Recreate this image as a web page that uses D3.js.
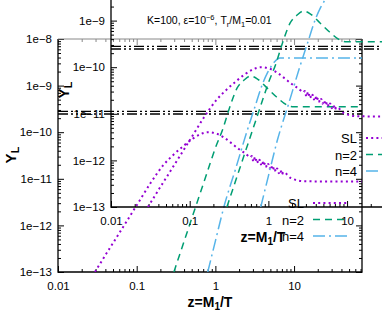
<!DOCTYPE html>
<html>
<head>
<meta charset="utf-8">
<script src="https://cdn.jsdelivr.net/npm/d3@7"></script>
<style>
  body { margin: 0; background: #fff; }
  svg { display: block; }
  text { font-family: "Liberation Sans", Arial, sans-serif; fill: #000; }
</style>
</head>
<body>
<svg></svg>
<script>
// values (z = M1/T, Y_L)
var zSL = [0.0295, 0.04, 0.06, 0.1, 0.15, 0.22, 0.3, 0.4, 0.5, 0.64, 0.8, 1.0, 1.3, 1.6, 2.0, 2.4, 2.8,
           2.9, 3.0, 3.1, 3.2, 3.35, 3.5, 3.65, 3.8, 3.95, 4.1, 4.3, 4.5, 4.7, 4.9, 5.1, 5.35, 5.6, 5.85, 6.1, 6.4, 6.7, 7.0, 7.3,
           9, 11, 13, 20, 40, 73];
var ySL = [1e-13, 2.3e-13, 6.8e-13, 2.7e-12, 8.1e-12, 2.0e-11, 3.4e-11, 5.2e-11, 7.0e-11, 9.0e-11, 1.0e-10, 9.5e-11, 7.6e-11, 5.8e-11, 4.3e-11, 3.5e-11, 2.9e-11,
           3.1e-11, 2.47e-11, 2.94e-11, 2.34e-11, 2.75e-11, 2.17e-11, 2.56e-11, 2.03e-11, 2.4e-11, 1.91e-11, 2.23e-11, 1.76e-11, 2.08e-11, 1.65e-11, 1.95e-11, 1.53e-11, 1.8e-11, 1.42e-11, 1.67e-11, 1.32e-11, 1.55e-11, 1.22e-11, 1.4e-11,
           1.05e-11, 9.3e-12, 8.9e-12, 8.8e-12, 8.8e-12, 8.8e-12];

var zN2 = [0.297, 0.5, 0.8, 1.0, 1.25, 1.5, 1.9, 2.3, 2.8, 3.4, 4.5, 6.0, 8.2, 10, 73];
var yN2 = [1e-13, 1.4e-12, 1.5e-11, 4.6e-11, 1.2e-10, 3.2e-10, 9e-10, 1.3e-9, 1.6e-9, 1.4e-9, 9e-10, 5.7e-10, 3.8e-10, 3.5e-10, 3.5e-10];

var zN4 = [0.8, 1.0, 1.3, 1.8, 2.5, 3.2, 3.9, 4.6, 5.2, 5.7, 6.2, 6.6, 73];
var yN4 = [1e-13, 4.6e-13, 2.7e-12, 1.6e-11, 1.0e-10, 3.6e-10, 1.0e-9, 1.9e-9, 2.7e-9, 3.3e-9, 3.75e-9, 3.9e-9, 3.9e-9];

var refLines = [2.8e-10, 2.45e-10];

var xTicks = [0.01, 0.1, 1, 10];
var xTickLabels = ["0.01", "0.1", "1", "10"];
var yTicks = [1e-13, 1e-12, 1e-11, 1e-10, 1e-9, 1e-8];
var yTickLabels = ["1e\u221213", "1e\u221212", "1e\u221211", "1e\u221210", "1e\u22129", "1e\u22128"];

var names = ["SL", "n=2", "n=4"];
var colors = ["#9400d3", "#009e73", "#56b4e9"];
var dashes = ["2,3.2", "7,5", "12,4,2,4"];
var widths = [2, 1.5, 1.5];

var svgWidth = 382, svgHeight = 327;
var svg = d3.select("svg")
    .attr("width", svgWidth)
    .attr("height", svgHeight);

var x = d3.scaleLog().domain([0.01, 73]).range([58, 362]);
var y = d3.scaleLog().domain([1e-13, 1e-8]).range([272, 39]);

var series = [
  zSL.map((z, i) => ({z: z, v: ySL[i]})),
  zN2.map((z, i) => ({z: z, v: yN2[i]})),
  zN4.map((z, i) => ({z: z, v: yN4[i]}))
];

// minor ticks 2..9 inside each decade
var minors = (lo, hi) => {
  var out = [];
  for (var k = Math.floor(Math.log10(lo)); k <= Math.ceil(Math.log10(hi)); k++) {
    for (var m = 2; m <= 9; m++) {
      var v = m * Math.pow(10, k);
      if (v > lo && v < hi) out.push(v);
    }
  }
  return out;
};
var xMinor = minors(x.domain()[0], x.domain()[1]);
var yMinor = minors(y.domain()[0], y.domain()[1]);

var line = d3.line()
    .x(d => x(d.z))
    .y(d => y(d.v))
    .curve(d3.curveMonotoneX);

// the picture holds the same figure twice, the second copy shifted up-right
drawPanel = (dx, dy, id) => {
  var g = svg.append("g").attr("transform", "translate(" + dx + "," + dy + ")");
  var left = x.range()[0], right = x.range()[1], top = y.range()[1], bottom = y.range()[0];

  g.append("clipPath").attr("id", "clip" + id)
    .append("rect")
    .attr("x", left).attr("y", top)
    .attr("width", right - left).attr("height", bottom - top);

  // ticks on all four sides
  var axes = [
    [d3.axisBottom(x), "translate(0," + bottom + ")", xTicks, xMinor, true],
    [d3.axisTop(x), "translate(0," + top + ")", xTicks, xMinor, false],
    [d3.axisLeft(y), "translate(" + left + ",0)", yTicks, yMinor, true],
    [d3.axisRight(y), "translate(" + right + ",0)", yTicks, yMinor, false]
  ];
  axes.forEach(a => {
    var isX = a[2] === xTicks;
    var major = g.append("g").attr("transform", a[1])
      .call(a[0].tickValues(a[2]).tickSizeInner(-6).tickSizeOuter(0)
        .tickPadding(isX ? 10 : 6)
        .tickFormat((d, i) => a[4] ? (isX ? xTickLabels[i] : yTickLabels[i]) : ""));
    major.select(".domain").remove();
    major.selectAll("text").attr("font-size", 11.5).attr("font-family", null);
    var minor = g.append("g").attr("transform", a[1])
      .call(a[0].tickValues(a[3]).tickSizeInner(-3).tickSizeOuter(0).tickFormat(""));
    minor.select(".domain").remove();
    if (a[1].indexOf("," + top + ")") > 0 && isX) {
      major.selectAll("line").attr("stroke", "#888");
      minor.selectAll("line").attr("stroke", "#888");
    }
  });

  // frame
  g.append("path")
    .attr("d", "M" + left + "," + top + "V" + bottom + "H" + right + "V" + top)
    .attr("fill", "none").attr("stroke", "#000").attr("stroke-width", 1.3);
  g.append("line")
    .attr("x1", left).attr("x2", right).attr("y1", top).attr("y2", top)
    .attr("stroke", "#888").attr("stroke-width", 1);

  var plot = g.append("g").attr("clip-path", "url(#clip" + id + ")");

  // black dash-dot-dot reference pair
  plot.selectAll(".ref").data(refLines).enter().append("line")
    .attr("x1", left).attr("x2", right)
    .attr("y1", d => y(d)).attr("y2", d => y(d))
    .attr("stroke", "#000").attr("stroke-width", 1.4)
    .attr("stroke-dasharray", "10,3,2,3,2,3");

  series.forEach((s, i) => {
    plot.append("path")
      .attr("d", line(s))
      .attr("fill", "none")
      .attr("stroke", colors[i])
      .attr("stroke-width", widths[i])
      .attr("stroke-dasharray", dashes[i]);
  });

  // legend
  names.forEach((n, i) => {
    var ly = 203 + i * 16.5;
    g.append("text").attr("x", 304).attr("y", ly + 5)
      .attr("text-anchor", "end").attr("font-size", 13).text(n);
    g.append("line")
      .attr("x1", 313).attr("x2", 348).attr("y1", ly).attr("y2", ly)
      .attr("stroke", colors[i]).attr("stroke-width", widths[i])
      .attr("stroke-dasharray", dashes[i]);
  });

  // title
  var t = g.append("text").attr("x", 147).attr("y", 24).attr("font-size", 10.5);
  t.append("tspan").text("K=100, \u03b5=10");
  t.append("tspan").attr("dy", -4).attr("font-size", 7.5).text("\u22126");
  t.append("tspan").attr("dy", 4).text(", T");
  t.append("tspan").attr("dy", 2.5).attr("font-size", 7.5).text("r");
  t.append("tspan").attr("dy", -2.5).text("/M");
  t.append("tspan").attr("dy", 2.5).attr("font-size", 7.5).text("1");
  t.append("tspan").attr("dy", -2.5).text("=0.01");

  // axis labels
  var xl = g.append("text").attr("x", (left + right) / 2).attr("y", 307)
    .attr("text-anchor", "middle").attr("font-size", 14).attr("font-weight", "bold");
  xl.append("tspan").text("z=M");
  xl.append("tspan").attr("dy", 3).attr("font-size", 10).text("1");
  xl.append("tspan").attr("dy", -3).text("/T");

  var yl = g.append("text")
    .attr("transform", "translate(16,155) rotate(-90)")
    .attr("text-anchor", "middle").attr("font-size", 15).attr("font-weight", "bold");
  yl.append("tspan").text("Y");
  yl.append("tspan").attr("dy", 3).attr("font-size", 11).text("L");
};

var offsets = [[0, 0], [53, -65]];
for (var i = 0; i < offsets.length; i++) {
  drawPanel(offsets[i][0], offsets[i][1], i);
}
</script>
</body>
</html>
